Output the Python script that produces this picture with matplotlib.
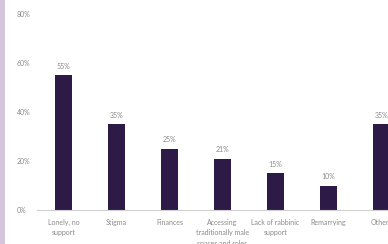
import matplotlib.pyplot as plt
from matplotlib.patches import Rectangle

categories = ['Lonely, no\nsupport', 'Stigma', 'Finances',
              'Accessing\ntraditionally male\nspaces and roles',
              'Lack of rabbinic\nsupport', 'Remarrying', 'Others']
values = [55, 35, 25, 21, 15, 10, 35]
y_ticks = [0, 20, 40, 60, 80]

bar_color = '#2e1a47'
text_color = '#8a8a8a'

plt.rcParams['font.family'] = ['Lato', 'DejaVu Sans']

fig = plt.figure(figsize=(3.88, 2.44), dpi=100)
fig.patch.set_facecolor('white')

# purple strip on the left edge
fig.patches.append(Rectangle((0, 0), 5 / 388, 1, transform=fig.transFigure,
                             facecolor='#d5c6dd', edgecolor='none'))

ax = fig.add_axes([37 / 388, 34 / 244, 371 / 388, 196 / 244])
x = range(len(categories))
ax.bar(x, values, width=0.32, color=bar_color)

for xi, v in zip(x, values):
    ax.text(xi, v + 2.2, f'{v}%', ha='center', va='bottom',
            fontsize=5, color=text_color)

ax.set_xlim(-0.5, 6.5)
ax.set_ylim(0, 80)
ax.set_yticks(y_ticks)
ax.set_yticklabels([f'{t}%' for t in y_ticks], fontsize=5, color=text_color,
                   ha='left')
ax.tick_params(axis='y', length=0, pad=14.4)
ax.set_xticks(list(x))
ax.set_xticklabels(categories, fontsize=5, color=text_color, linespacing=1.55)
ax.tick_params(axis='x', length=0, pad=6.5)

for s in ['top', 'right', 'left']:
    ax.spines[s].set_visible(False)
ax.spines['bottom'].set_color('#d0d0d0')
ax.spines['bottom'].set_linewidth(0.8)

fig.savefig('out.png', dpi=100)
